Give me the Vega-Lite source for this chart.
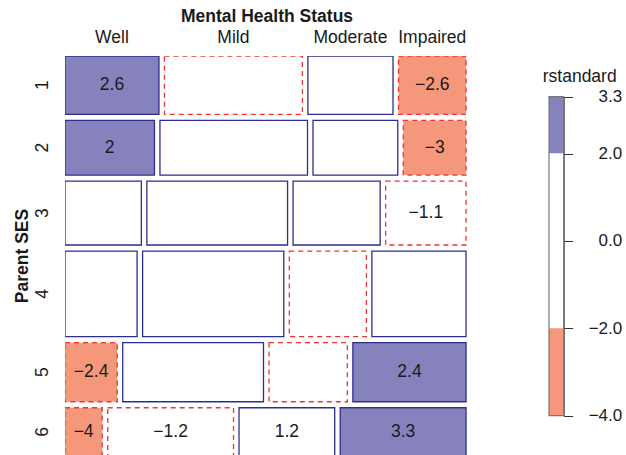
{
  "$schema": "https://vega.github.io/schema/vega-lite/v6.json",
  "width": 403,
  "height": 399,
  "autosize": {"type": "none"},
  "padding": {"left": 65, "top": 56, "right": 158, "bottom": 0},
  "background": "white",
  "config": {"view": {"stroke": null}, "font": "Liberation Sans"},
  "datasets": {
    "cells": [
      {"ses": "1", "s": 1, "mental": "Well", "m": 1, "count": 64, "resid": 2.6},
      {"ses": "1", "s": 1, "mental": "Mild", "m": 2, "count": 94, "resid": -0.1},
      {"ses": "1", "s": 1, "mental": "Moderate", "m": 3, "count": 58, "resid": 0.1},
      {"ses": "1", "s": 1, "mental": "Impaired", "m": 4, "count": 46, "resid": -2.6},
      {"ses": "2", "s": 2, "mental": "Well", "m": 1, "count": 57, "resid": 2.0},
      {"ses": "2", "s": 2, "mental": "Mild", "m": 2, "count": 94, "resid": 0.4},
      {"ses": "2", "s": 2, "mental": "Moderate", "m": 3, "count": 54, "resid": 0.2},
      {"ses": "2", "s": 2, "mental": "Impaired", "m": 4, "count": 40, "resid": -3.0},
      {"ses": "3", "s": 3, "mental": "Well", "m": 1, "count": 57, "resid": 0.5},
      {"ses": "3", "s": 3, "mental": "Mild", "m": 2, "count": 105, "resid": 0.1},
      {"ses": "3", "s": 3, "mental": "Moderate", "m": 3, "count": 65, "resid": 0.4},
      {"ses": "3", "s": 3, "mental": "Impaired", "m": 4, "count": 60, "resid": -1.1},
      {"ses": "4", "s": 4, "mental": "Well", "m": 1, "count": 72, "resid": 0.1},
      {"ses": "4", "s": 4, "mental": "Mild", "m": 2, "count": 141, "resid": 0.2},
      {"ses": "4", "s": 4, "mental": "Moderate", "m": 3, "count": 77, "resid": -0.3},
      {"ses": "4", "s": 4, "mental": "Impaired", "m": 4, "count": 94, "resid": 0.3},
      {"ses": "5", "s": 5, "mental": "Well", "m": 1, "count": 36, "resid": -2.4},
      {"ses": "5", "s": 5, "mental": "Mild", "m": 2, "count": 97, "resid": 0.5},
      {"ses": "5", "s": 5, "mental": "Moderate", "m": 3, "count": 54, "resid": -0.2},
      {"ses": "5", "s": 5, "mental": "Impaired", "m": 4, "count": 78, "resid": 2.4},
      {"ses": "6", "s": 6, "mental": "Well", "m": 1, "count": 21, "resid": -4.0},
      {"ses": "6", "s": 6, "mental": "Mild", "m": 2, "count": 71, "resid": -1.2},
      {"ses": "6", "s": 6, "mental": "Moderate", "m": 3, "count": 54, "resid": 1.2},
      {"ses": "6", "s": 6, "mental": "Impaired", "m": 4, "count": 71, "resid": 3.3}
    ],
    "key": [
      {"lo": 2, "hi": 3.3},
      {"lo": -2, "hi": 2},
      {"lo": -4, "hi": -2}
    ]
  },
  "layer": [
    {
      "data": {"name": "cells"},
      "transform": [
        {"stack": "count", "groupby": ["s"], "sort": [{"field": "m", "order": "ascending"}], "offset": "normalize", "as": ["px0", "px1"]},
        {"stack": "count", "groupby": [], "sort": [{"field": "s", "order": "ascending"}, {"field": "m", "order": "ascending"}], "as": ["c0", "c1"]},
        {"window": [{"op": "min", "field": "c0", "as": "r0"}, {"op": "max", "field": "c1", "as": "r1"}], "groupby": ["s"], "frame": [null, null]},
        {"calculate": "datum.px0 + (datum.m - 1) * 0.0143", "as": "x0"},
        {"calculate": "datum.px1 + (datum.m - 1) * 0.0143", "as": "x1"},
        {"calculate": "datum.r0 + (datum.s - 1) * 27", "as": "y0"},
        {"calculate": "datum.r1 + (datum.s - 1) * 27", "as": "y1"},
        {"calculate": "(datum.x0 + datum.x1) / 2", "as": "xc"},
        {"calculate": "(datum.y0 + datum.y1) / 2", "as": "yc"}
      ],
      "layer": [
        {
          "transform": [{"filter": "datum.resid >= 0"}],
          "mark": {"type": "rect", "clip": true, "strokeWidth": 1.3, "stroke": "#2E2E8F"},
          "encoding": {
            "x": {"field": "x0", "type": "quantitative", "scale": {"domain": [0, 1.048], "nice": false, "zero": false},
              "axis": {"orient": "top", "title": "Mental Health Status", "labels": false, "ticks": false, "domain": false, "grid": false,
                "titleFontSize": 17.5, "titleFontWeight": "bold", "titleColor": "#1a1a1a", "titleY": -35, "titleBaseline": "alphabetic"}},
            "x2": {"field": "x1"},
            "y": {"field": "y0", "type": "quantitative", "scale": {"domain": [0, 1790], "reverse": true, "nice": false, "zero": false},
              "axis": {"orient": "left", "title": "Parent SES", "labels": false, "ticks": false, "domain": false, "grid": false,
                "titleFontSize": 17.5, "titleFontWeight": "bold", "titleColor": "#1a1a1a", "titleX": -43, "titleBaseline": "middle"}},
            "y2": {"field": "y1"},
            "fill": {"field": "resid", "type": "quantitative",
              "scale": {"type": "threshold", "domain": [-2, 2], "range": ["#F5977A", "#FFFFFF", "#8682BE"]}, "legend": null}
          }
        },
        {
          "transform": [{"filter": "datum.resid < 0"}],
          "mark": {"type": "rect", "clip": true, "strokeWidth": 1.3, "stroke": "#EE3333", "strokeDash": [5, 4]},
          "encoding": {
            "x": {"field": "x0", "type": "quantitative"},
            "x2": {"field": "x1"},
            "y": {"field": "y0", "type": "quantitative"},
            "y2": {"field": "y1"},
            "fill": {"field": "resid", "type": "quantitative",
              "scale": {"type": "threshold", "domain": [-2, 2], "range": ["#F5977A", "#FFFFFF", "#8682BE"]}, "legend": null}
          }
        },
        {
          "transform": [{"filter": "abs(datum.resid) >= 1"}],
          "mark": {"type": "text", "fontSize": 17.5, "color": "#1a1a1a", "baseline": "middle", "align": "center"},
          "encoding": {
            "x": {"field": "xc", "type": "quantitative"},
            "y": {"field": "yc", "type": "quantitative"},
            "text": {"field": "resid", "type": "quantitative", "format": ".2~r"}
          }
        },
        {
          "transform": [{"filter": "datum.s == 1"}],
          "mark": {"type": "text", "fontSize": 17.5, "color": "#1a1a1a", "baseline": "alphabetic", "align": "center", "dy": -13.3},
          "encoding": {
            "x": {"field": "xc", "type": "quantitative"},
            "y": {"datum": 0, "type": "quantitative"},
            "text": {"field": "mental"}
          }
        },
        {
          "transform": [{"filter": "datum.m == 1"}],
          "mark": {"type": "text", "fontSize": 17.5, "color": "#1a1a1a", "baseline": "middle", "align": "center", "angle": 270, "dy": -22},
          "encoding": {
            "x": {"datum": 0, "type": "quantitative"},
            "y": {"field": "yc", "type": "quantitative"},
            "text": {"field": "ses"}
          }
        }
      ]
    },
    {
      "data": {"name": "key"},
      "layer": [
        {
          "mark": {"type": "rect"},
          "encoding": {
            "x": {"datum": 0, "type": "quantitative", "scale": {"domain": [0, 1], "range": [484, 498.7], "nice": false, "zero": false}, "axis": null},
            "x2": {"datum": 1},
            "y": {"field": "lo", "type": "quantitative", "scale": {"domain": [-4, 3.3], "range": [359.7, 40.7], "nice": false, "zero": false},
              "axis": {"orient": "right", "offset": 95.7, "values": [3.3, 2, 0, -2, -4], "format": ".1f", "tickSize": 9, "tickColor": "#333333", "domainColor": "#333333",
                "labelAlign": "right", "labelPadding": 49, "labelFontSize": 17, "labelColor": "#1a1a1a", "labelOverlap": false, "labelFlush": false, "grid": false,
                "title": "rstandard", "titleAngle": 0, "titleX": 15.5, "titleY": 25, "titleAlign": "center", "titleBaseline": "alphabetic",
                "titleFontWeight": "normal", "titleFontSize": 17.5, "titleColor": "#1a1a1a"}},
            "y2": {"field": "hi"},
            "fill": {"field": "lo", "type": "quantitative",
              "scale": {"type": "threshold", "domain": [-2, 2], "range": ["#F5977A", "#FFFFFF", "#8682BE"]}, "legend": null}
          }
        },
        {
          "transform": [{"aggregate": [{"op": "min", "field": "lo", "as": "lo"}, {"op": "max", "field": "hi", "as": "hi"}]}],
          "mark": {"type": "rect", "fill": null, "fillOpacity": 0, "stroke": "#777777", "strokeWidth": 1.2},
          "encoding": {
            "x": {"datum": 0, "type": "quantitative"},
            "x2": {"datum": 1},
            "y": {"field": "lo", "type": "quantitative"},
            "y2": {"field": "hi"}
          }
        }
      ]
    }
  ],
  "resolve": {"scale": {"x": "independent", "y": "independent", "fill": "shared"}}
}
